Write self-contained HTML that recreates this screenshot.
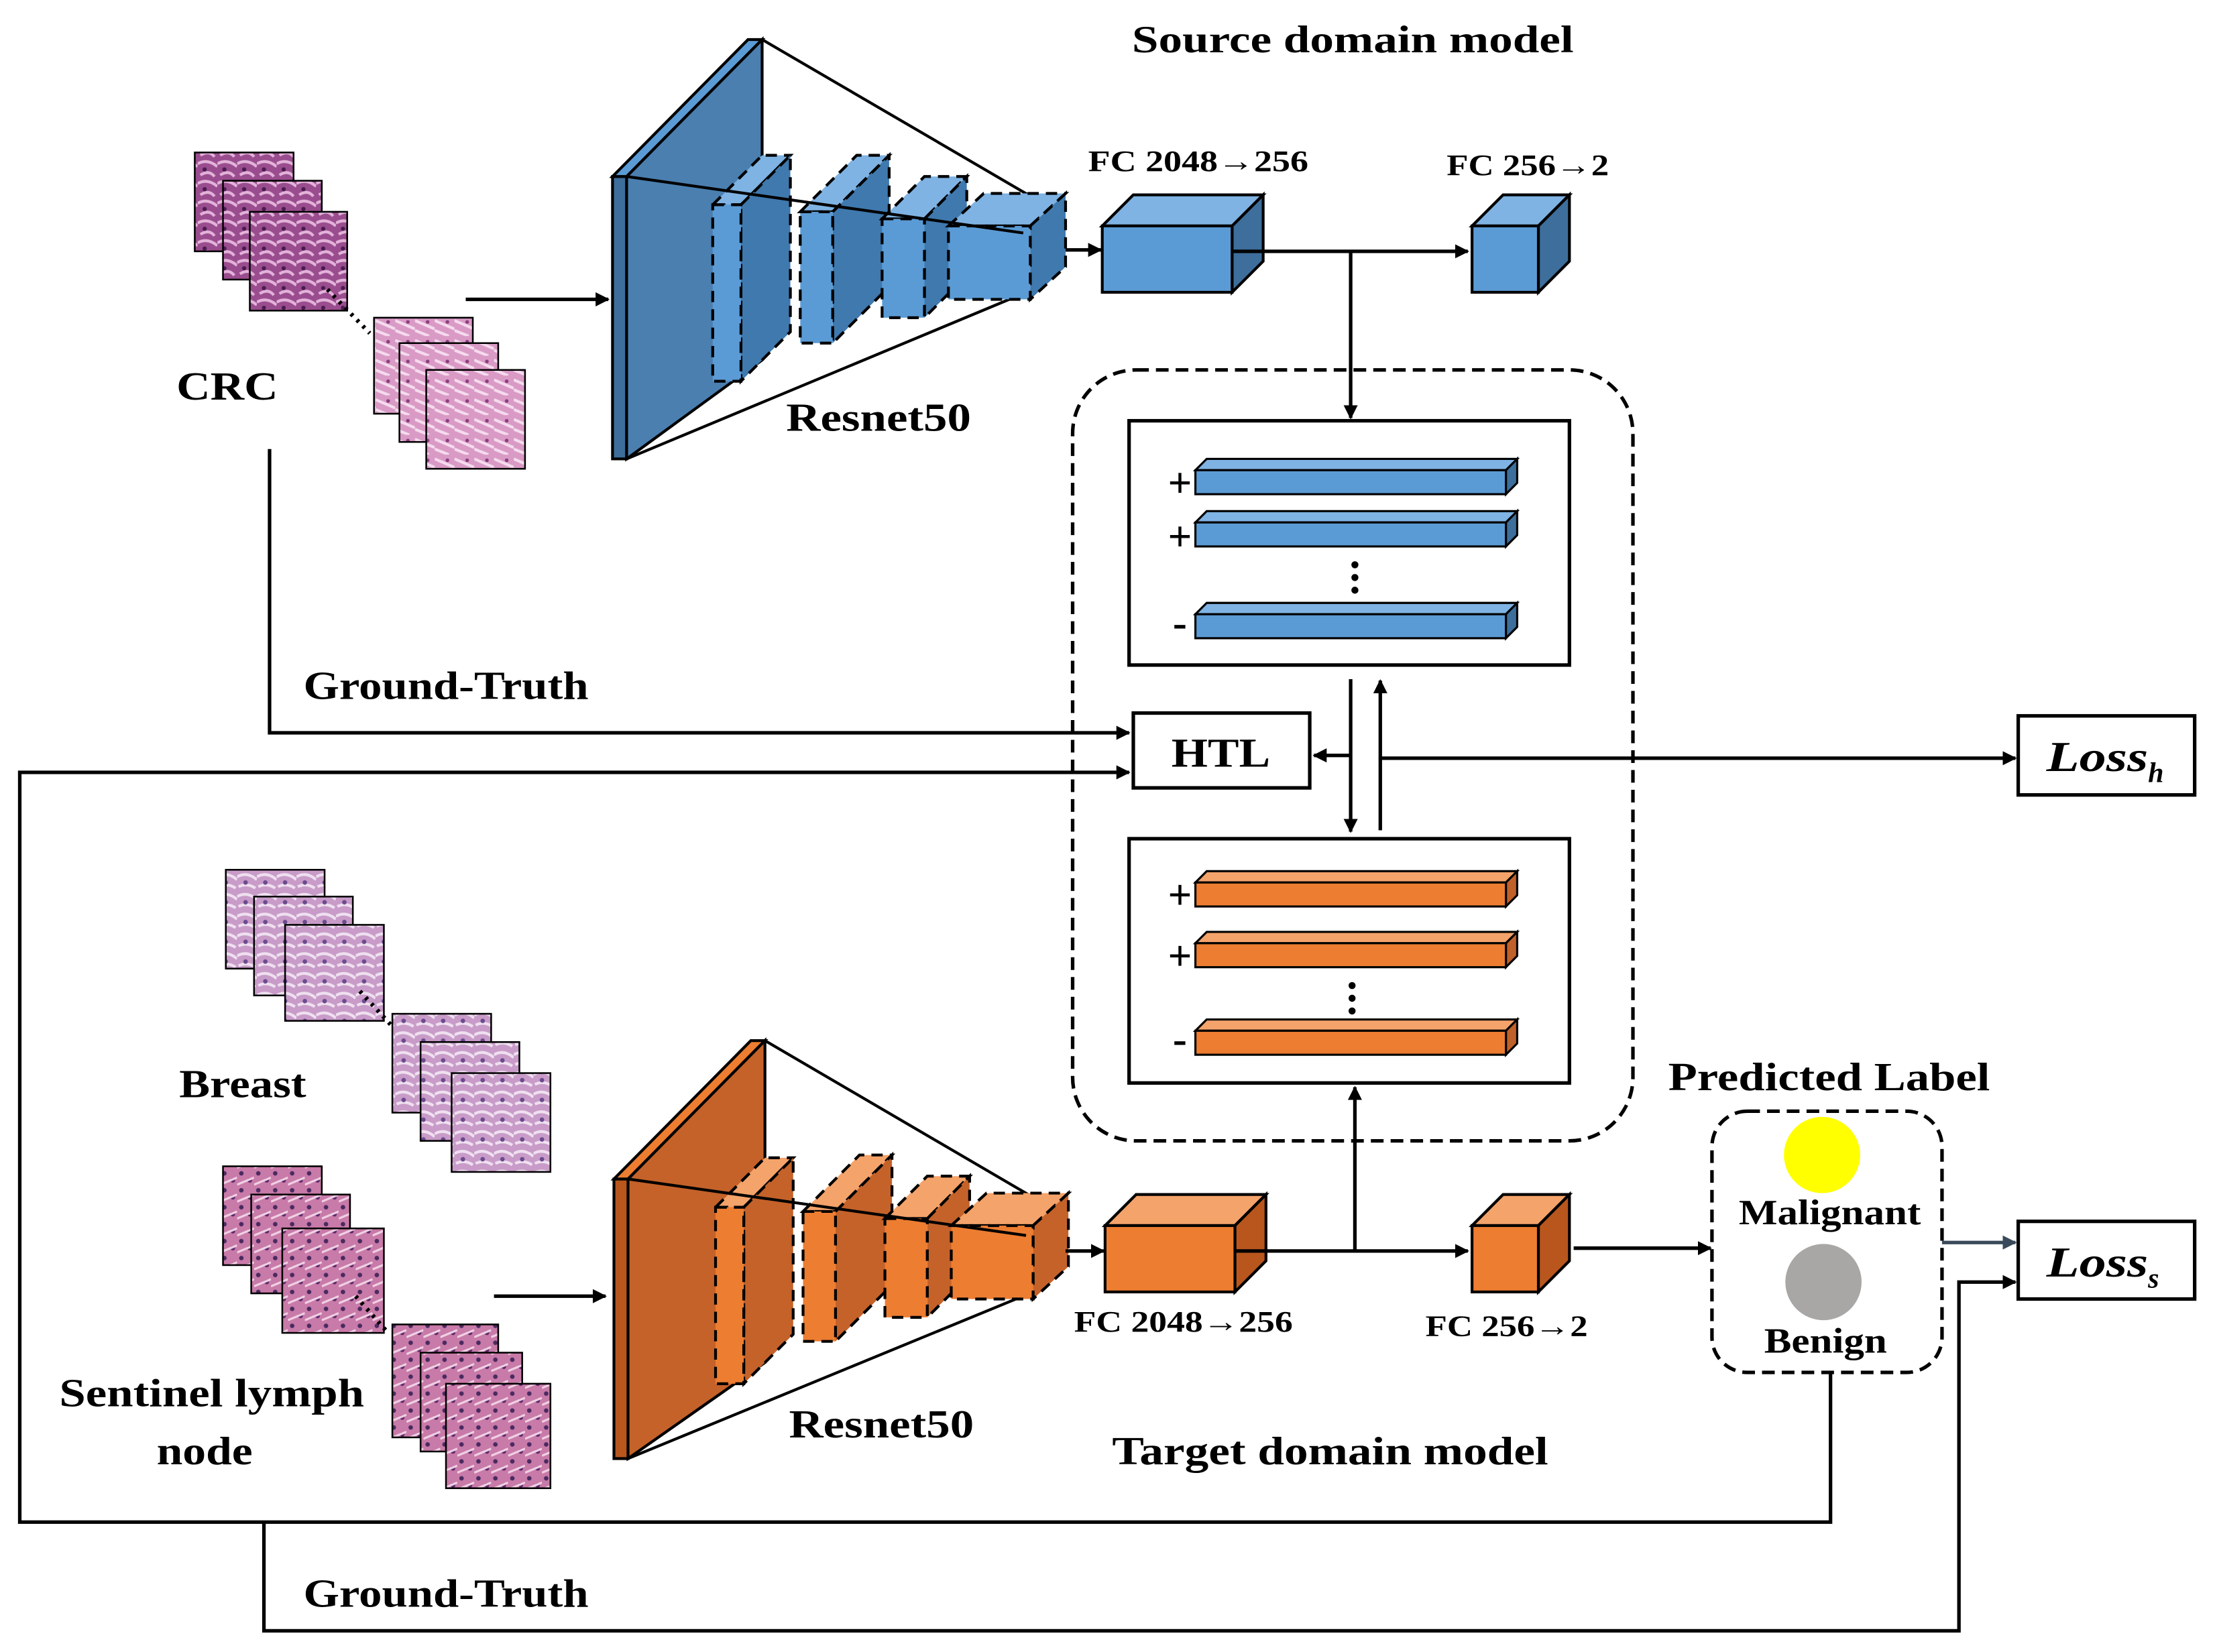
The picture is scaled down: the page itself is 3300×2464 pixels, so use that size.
<!DOCTYPE html>
<html><head><meta charset="utf-8"><style>
html,body{margin:0;padding:0;background:#fff;}
svg{display:block;}
text{font-family:"Liberation Serif",serif;font-weight:bold;fill:#000;}
</style></head><body>
<svg width="3300" height="2464" viewBox="0 0 1568 1170" preserveAspectRatio="none" xmlns="http://www.w3.org/2000/svg">
<defs>
<marker id="ar" markerWidth="10" markerHeight="10" refX="9" refY="5" orient="auto" markerUnits="userSpaceOnUse"><path d="M0,0 L10,5 L0,10 z" fill="#000"/></marker>
<marker id="ar2" markerWidth="10" markerHeight="10" refX="9" refY="5" orient="auto" markerUnits="userSpaceOnUse"><path d="M0,0 L10,5 L0,10 z" fill="#3a4a5a"/></marker>
<pattern id="pur" width="14" height="14" patternUnits="userSpaceOnUse"><rect width="14" height="14" fill="#9a4d8e"/><path d="M0,4 Q7,0 14,6 M2,12 Q8,8 12,13" stroke="#e3b3da" stroke-width="2" fill="none"/><circle cx="5" cy="8" r="1.5" fill="#4a1b50"/></pattern>
<pattern id="pnk" width="14" height="14" patternUnits="userSpaceOnUse"><rect width="14" height="14" fill="#d99ac5"/><path d="M0,3 L14,9 M0,10 L10,14" stroke="#f5dbee" stroke-width="2"/><circle cx="9" cy="4" r="1.3" fill="#8a3d7e"/></pattern>
<pattern id="br" width="14" height="14" patternUnits="userSpaceOnUse"><rect width="14" height="14" fill="#c89bc8"/><path d="M0,5 Q7,1 14,7 M1,12 Q7,9 13,13" stroke="#efe0f0" stroke-width="2" fill="none"/><circle cx="6" cy="9" r="1.6" fill="#6b4a8e"/></pattern>
<pattern id="sl" width="12" height="12" patternUnits="userSpaceOnUse"><rect width="12" height="12" fill="#c87aa8"/><circle cx="3" cy="3" r="1.6" fill="#4a2a60"/><circle cx="9" cy="8" r="1.6" fill="#5a2a6a"/><path d="M0,11 L12,6" stroke="#f0d0e4" stroke-width="1.5"/></pattern>
</defs>

<text x="802" y="37" font-size="27" textLength="313" lengthAdjust="spacingAndGlyphs">Source domain model</text>

<g stroke="#000" stroke-width="1.2">
<rect x="138" y="108" width="70" height="70" fill="url(#pur)"/>
<rect x="158" y="128" width="70" height="70" fill="url(#pur)"/>
<rect x="177" y="150" width="69" height="70" fill="url(#pur)"/>
<rect x="265" y="225" width="70" height="68" fill="url(#pnk)"/>
<rect x="283" y="243" width="70" height="70" fill="url(#pnk)"/>
<rect x="302" y="262" width="70" height="70" fill="url(#pnk)"/>
</g>
<line x1="232" y1="205" x2="262" y2="236" stroke="#000" stroke-width="3" stroke-dasharray="2,4"/>
<text x="125" y="283" font-size="28" textLength="72" lengthAdjust="spacingAndGlyphs">CRC</text>
<line x1="330" y1="212" x2="431" y2="212" stroke="#000" stroke-width="2.5" marker-end="url(#ar)"/>

<g stroke="#000" stroke-width="2">
<polygon points="434,125 444,125 444,325 434,325" fill="#3d6e9c"/>
<polygon points="434,125 530,28 540,28 444,125" fill="#5b9bd5"/>
<polygon points="444,125 540,28 540,255 444,325" fill="#4a7fb0"/>
<line x1="540" y1="28" x2="732" y2="140"/>
<line x1="444" y1="325" x2="732" y2="205"/>
</g>
<g stroke="#000" stroke-width="2" stroke-dasharray="8,5">
<polygon points="505,145 540,110 560,110 525,145" fill="#7fb3e3"/><polygon points="525,145 560,110 560,235 525,270" fill="#3f79ae"/><rect x="505" y="145" width="20" height="125" fill="#5b9bd5"/>
<polygon points="567,150 607,110 630,110 590,150" fill="#7fb3e3"/><polygon points="590,150 630,110 630,203 590,243" fill="#3f79ae"/><rect x="567" y="150" width="23" height="93" fill="#5b9bd5"/>
<polygon points="625,155 655,125 685,125 655,155" fill="#7fb3e3"/><polygon points="655,155 685,125 685,195 655,225" fill="#3f79ae"/><rect x="625" y="155" width="30" height="70" fill="#5b9bd5"/>
<polygon points="672,160 697,137 755,137 730,160" fill="#7fb3e3"/><polygon points="730,160 755,137 755,189 730,212" fill="#3f79ae"/><rect x="672" y="160" width="58" height="52" fill="#5b9bd5"/>
</g>
<line x1="444" y1="125" x2="725" y2="165" stroke="#000" stroke-width="2"/>
<text x="557" y="305" font-size="28" textLength="131" lengthAdjust="spacingAndGlyphs">Resnet50</text>

<line x1="755" y1="177" x2="780" y2="177" stroke="#000" stroke-width="2.5" marker-end="url(#ar)"/>
<g stroke="#000" stroke-width="2">
<polygon points="781,160 803,138 895,138 873,160" fill="#7fb3e3"/><polygon points="873,160 895,138 895,185 873,207" fill="#3d6e9c"/><rect x="781" y="160" width="92" height="47" fill="#5b9bd5"/>
<polygon points="1043,160 1065,138 1112,138 1090,160" fill="#7fb3e3"/><polygon points="1090,160 1112,138 1112,185 1090,207" fill="#3d6e9c"/><rect x="1043" y="160" width="47" height="47" fill="#5b9bd5"/>
</g>
<text x="771" y="121" font-size="21" textLength="156" lengthAdjust="spacingAndGlyphs">FC 2048→256</text>
<text x="1025" y="124" font-size="21" textLength="115" lengthAdjust="spacingAndGlyphs">FC 256→2</text>
<line x1="873" y1="178" x2="1040" y2="178" stroke="#000" stroke-width="2.5" marker-end="url(#ar)"/>
<line x1="957" y1="178" x2="957" y2="296" stroke="#000" stroke-width="2.5" marker-end="url(#ar)"/>

<rect x="760" y="262" width="397" height="546" rx="45" fill="none" stroke="#000" stroke-width="2.5" stroke-dasharray="9,5"/>
<rect x="800" y="298" width="312" height="173" fill="#fff" stroke="#000" stroke-width="2.5"/>
<g stroke="#000" stroke-width="1.5">
<polygon points="847,333 855,325 1075,325 1067,333" fill="#7fb3e3"/><polygon points="1067,333 1075,325 1075,342 1067,350" fill="#3d6e9c"/><rect x="847" y="333" width="220" height="17" fill="#5b9bd5"/>
<polygon points="847,370 855,362 1075,362 1067,370" fill="#7fb3e3"/><polygon points="1067,370 1075,362 1075,379 1067,387" fill="#3d6e9c"/><rect x="847" y="370" width="220" height="17" fill="#5b9bd5"/>
<polygon points="847,435 855,427 1075,427 1067,435" fill="#7fb3e3"/><polygon points="1067,435 1075,427 1075,444 1067,452" fill="#3d6e9c"/><rect x="847" y="435" width="220" height="17" fill="#5b9bd5"/>
</g>
<text x="836" y="352" font-size="30" text-anchor="middle">+</text>
<text x="836" y="390" font-size="30" text-anchor="middle">+</text>
<text x="836" y="451" font-size="30" text-anchor="middle">-</text>
<g fill="#000"><circle cx="960" cy="400" r="2.5"/><circle cx="960" cy="409" r="2.5"/><circle cx="960" cy="418" r="2.5"/></g>

<rect x="800" y="594" width="312" height="173" fill="#fff" stroke="#000" stroke-width="2.5"/>
<g stroke="#000" stroke-width="1.5">
<polygon points="847,625 855,617 1075,617 1067,625" fill="#f4a36a"/><polygon points="1067,625 1075,617 1075,634 1067,642" fill="#c0612a"/><rect x="847" y="625" width="220" height="17" fill="#ed7d31"/>
<polygon points="847,668 855,660 1075,660 1067,668" fill="#f4a36a"/><polygon points="1067,668 1075,660 1075,677 1067,685" fill="#c0612a"/><rect x="847" y="668" width="220" height="17" fill="#ed7d31"/>
<polygon points="847,730 855,722 1075,722 1067,730" fill="#f4a36a"/><polygon points="1067,730 1075,722 1075,739 1067,747" fill="#c0612a"/><rect x="847" y="730" width="220" height="17" fill="#ed7d31"/>
</g>
<text x="836" y="644" font-size="30" text-anchor="middle">+</text>
<text x="836" y="687" font-size="30" text-anchor="middle">+</text>
<text x="836" y="746" font-size="30" text-anchor="middle">-</text>
<g fill="#000"><circle cx="958" cy="698" r="2.5"/><circle cx="958" cy="707" r="2.5"/><circle cx="958" cy="716" r="2.5"/></g>

<rect x="803" y="505" width="125" height="53" fill="#fff" stroke="#000" stroke-width="2.5"/>
<text x="830" y="543" font-size="29" textLength="70" lengthAdjust="spacingAndGlyphs">HTL</text>
<line x1="957" y1="481" x2="957" y2="589" stroke="#000" stroke-width="2.5" marker-end="url(#ar)"/>
<line x1="978" y1="588" x2="978" y2="482" stroke="#000" stroke-width="2.5" marker-end="url(#ar)"/>
<line x1="957" y1="535" x2="931" y2="535" stroke="#000" stroke-width="2.5" marker-end="url(#ar)"/>
<line x1="978" y1="537" x2="1428" y2="537" stroke="#000" stroke-width="2.5" marker-end="url(#ar)"/>
<rect x="1430" y="507" width="125" height="56" fill="#fff" stroke="#000" stroke-width="2.5"/>
<text x="1450" y="546" font-size="30" font-style="italic"><tspan textLength="72" lengthAdjust="spacingAndGlyphs">Loss</tspan><tspan font-size="20" dy="8">h</tspan></text>

<polyline points="191,318 191,519 800,519" fill="none" stroke="#000" stroke-width="2.5" marker-end="url(#ar)"/>
<text x="215" y="495" font-size="28" textLength="202" lengthAdjust="spacingAndGlyphs">Ground-Truth</text>
<polyline points="1297,972 1297,1078 14,1078 14,547 800,547" fill="none" stroke="#000" stroke-width="2.5" marker-end="url(#ar)"/>
<polyline points="187,1078 187,1155 1388,1155 1388,908 1428,908" fill="none" stroke="#000" stroke-width="2.5" marker-end="url(#ar)"/>
<text x="215" y="1138" font-size="28" textLength="202" lengthAdjust="spacingAndGlyphs">Ground-Truth</text>

<g stroke="#000" stroke-width="1.2">
<rect x="160" y="616" width="70" height="70" fill="url(#br)"/>
<rect x="180" y="635" width="70" height="70" fill="url(#br)"/>
<rect x="202" y="655" width="70" height="68" fill="url(#br)"/>
<rect x="278" y="718" width="70" height="70" fill="url(#br)"/>
<rect x="298" y="738" width="70" height="70" fill="url(#br)"/>
<rect x="320" y="760" width="70" height="70" fill="url(#br)"/>
<rect x="158" y="826" width="70" height="70" fill="url(#sl)"/>
<rect x="178" y="846" width="70" height="70" fill="url(#sl)"/>
<rect x="200" y="870" width="72" height="74" fill="url(#sl)"/>
<rect x="278" y="938" width="75" height="80" fill="url(#sl)"/>
<rect x="298" y="958" width="72" height="70" fill="url(#sl)"/>
<rect x="316" y="980" width="74" height="74" fill="url(#sl)"/>
</g>
<line x1="255" y1="702" x2="278" y2="727" stroke="#000" stroke-width="3" stroke-dasharray="2,4"/>
<line x1="252" y1="918" x2="275" y2="944" stroke="#000" stroke-width="3" stroke-dasharray="2,4"/>
<text x="127" y="777" font-size="28" textLength="90" lengthAdjust="spacingAndGlyphs">Breast</text>
<text x="42" y="996" font-size="28" textLength="216" lengthAdjust="spacingAndGlyphs">Sentinel lymph</text>
<text x="111" y="1037" font-size="28" textLength="68" lengthAdjust="spacingAndGlyphs">node</text>
<line x1="350" y1="918" x2="429" y2="918" stroke="#000" stroke-width="2.5" marker-end="url(#ar)"/>

<g stroke="#000" stroke-width="2">
<polygon points="435,835 445,835 445,1033 435,1033" fill="#b8561d"/>
<polygon points="435,835 532,737 542,737 445,835" fill="#ed7d31"/>
<polygon points="445,835 542,737 542,965 445,1033" fill="#c4622a"/>
<line x1="542" y1="737" x2="732" y2="848"/>
<line x1="445" y1="1033" x2="732" y2="915"/>
</g>
<g stroke="#000" stroke-width="2" stroke-dasharray="8,5">
<polygon points="507,855 542,820 562,820 527,855" fill="#f4a36a"/><polygon points="527,855 562,820 562,945 527,980" fill="#c4622a"/><rect x="507" y="855" width="20" height="125" fill="#ed7d31"/>
<polygon points="569,858 609,818 632,818 592,858" fill="#f4a36a"/><polygon points="592,858 632,818 632,910 592,950" fill="#c4622a"/><rect x="569" y="858" width="23" height="92" fill="#ed7d31"/>
<polygon points="627,863 657,833 687,833 657,863" fill="#f4a36a"/><polygon points="657,863 687,833 687,903 657,933" fill="#c4622a"/><rect x="627" y="863" width="30" height="70" fill="#ed7d31"/>
<polygon points="674,868 699,845 757,845 732,868" fill="#f4a36a"/><polygon points="732,868 757,845 757,897 732,920" fill="#c4622a"/><rect x="674" y="868" width="58" height="52" fill="#ed7d31"/>
</g>
<line x1="445" y1="835" x2="727" y2="875" stroke="#000" stroke-width="2"/>
<text x="559" y="1018" font-size="28" textLength="131" lengthAdjust="spacingAndGlyphs">Resnet50</text>

<line x1="755" y1="886" x2="782" y2="886" stroke="#000" stroke-width="2.5" marker-end="url(#ar)"/>
<g stroke="#000" stroke-width="2">
<polygon points="783,868 805,846 897,846 875,868" fill="#f4a36a"/><polygon points="875,868 897,846 897,893 875,915" fill="#b8561d"/><rect x="783" y="868" width="92" height="47" fill="#ed7d31"/>
<polygon points="1043,868 1065,846 1112,846 1090,868" fill="#f4a36a"/><polygon points="1090,868 1112,846 1112,893 1090,915" fill="#b8561d"/><rect x="1043" y="868" width="47" height="47" fill="#ed7d31"/>
</g>
<text x="761" y="943" font-size="21" textLength="155" lengthAdjust="spacingAndGlyphs">FC 2048→256</text>
<text x="1010" y="946" font-size="21" textLength="115" lengthAdjust="spacingAndGlyphs">FC 256→2</text>
<line x1="875" y1="886" x2="1040" y2="886" stroke="#000" stroke-width="2.5" marker-end="url(#ar)"/>
<line x1="960" y1="886" x2="960" y2="770" stroke="#000" stroke-width="2.5" marker-end="url(#ar)"/>
<line x1="1115" y1="884" x2="1212" y2="884" stroke="#000" stroke-width="2.5" marker-end="url(#ar)"/>
<text x="788" y="1037" font-size="28" textLength="309" lengthAdjust="spacingAndGlyphs">Target domain model</text>

<text x="1182" y="772" font-size="28" textLength="228" lengthAdjust="spacingAndGlyphs">Predicted Label</text>
<rect x="1213" y="787" width="163" height="185" rx="25" fill="none" stroke="#000" stroke-width="2.5" stroke-dasharray="9,5"/>
<circle cx="1291" cy="818" r="27" fill="#ffff00"/>
<text x="1232" y="867" font-size="25" textLength="129" lengthAdjust="spacingAndGlyphs">Malignant</text>
<circle cx="1292" cy="908" r="27" fill="#a9a6a6"/>
<text x="1250" y="958" font-size="25" textLength="87" lengthAdjust="spacingAndGlyphs">Benign</text>
<line x1="1376" y1="880" x2="1428" y2="880" stroke="#3a4a5a" stroke-width="2.5" marker-end="url(#ar2)"/>
<rect x="1430" y="865" width="125" height="55" fill="#fff" stroke="#000" stroke-width="2.5"/>
<text x="1450" y="904" font-size="30" font-style="italic"><tspan textLength="72" lengthAdjust="spacingAndGlyphs">Loss</tspan><tspan font-size="20" dy="8">s</tspan></text>
</svg>
</body></html>
